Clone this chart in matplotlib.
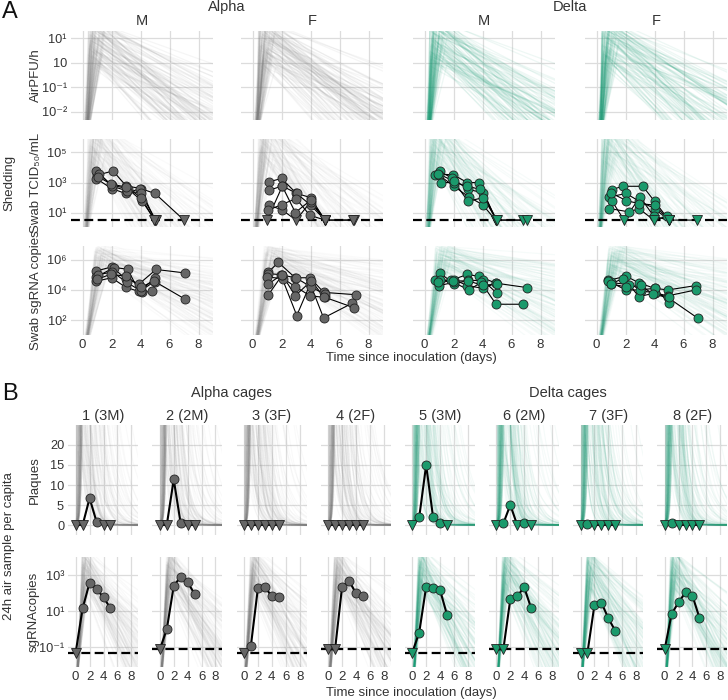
import numpy as np
import matplotlib
matplotlib.use("Agg")
import matplotlib.pyplot as plt
from matplotlib.collections import LineCollection
from matplotlib.ticker import NullLocator

plt.rcParams['font.family'] = ['Liberation Sans', 'DejaVu Sans']
plt.rcParams['mathtext.default'] = 'regular'

W, H = 728, 700

# ---------------- data ----------------
A_COLUMNS = ["M", "F", "M", "F"]
VARIANTS = ["Alpha", "Delta"]
X_TICKS = [0, 2, 4, 6, 8]

# Swab TCID50 (log10); None = below detection limit
SWAB_LOD_LOG = 0.5
ALPHA_M_TCID_DAYS = [[1.0, 2.1, 3.0, 4.0, 5.0, 7.0], [0.95, 2.0, 3.1, 4.1, 5.0],
                     [0.95, 2.0, 2.97, 3.98, 5.0], [1.15, 2.05, 3.05, 4.0, 5.05],
                     [1.05, 1.95, 3.0, 4.05, 4.95]]
ALPHA_M_TCID_LOG = [[3.49, 3.77, 2.78, 2.6, 2.27, None], [3.77, 2.82, 2.6, 1.77, None],
                    [3.26, 2.6, 2.27, 2.6, None], [3.6, 2.75, 2.45, 2.3, None],
                    [3.4, 2.9, 2.7, 2.0, None]]
ALPHA_F_TCID_DAYS = [[1.1, 2.0, 3.0, 4.0, 5.0], [1.15, 2.05, 3.05, 4.0, 5.0, 7.0],
                     [1.1, 2.0, 3.0, 4.0, 5.0], [1.05, 2.0, 3.0, 3.95, 5.0],
                     [1.0, 2.05, 2.95, 4.0, 5.0, 6.95]]
ALPHA_F_TCID_LOG = [[3.04, 3.27, 2.3, 1.5, None], [2.49, 2.77, 2.27, 2.0, None, None],
                    [1.49, 1.2, None, 1.71, None], [1.15, 1.53, 1.93, 0.82, None],
                    [None, 2.75, 1.0, 1.82, None, None]]
DELTA_M_TCID_DAYS = [[0.75, 1.95, 2.95, 3.75, 4.95], [1.05, 1.9, 3.0, 4.05, 4.95, 6.8],
                     [1.0, 2.0, 3.05, 4.0, 4.9], [1.1, 2.05, 2.9, 3.8, 4.95, 7.05],
                     [0.9, 2.0, 3.0, 4.05, 5.0]]
DELTA_M_TCID_LOG = [[3.53, 3.53, 3.0, 3.0, None], [3.77, 3.27, 2.55, 2.31, None, None],
                    [3.49, 2.77, 2.04, 1.53, None], [3.0, 3.0, 2.77, 2.55, None, None],
                    [3.6, 3.1, 1.75, 2.0, None]]
DELTA_F_TCID_DAYS = [[1.06, 1.8, 3.19, 4.0, 5.0], [0.88, 2.03, 2.92, 4.0, 4.98, 6.9],
                     [1.06, 1.9, 3.0, 3.95, 4.98], [0.88, 2.27, 2.92, 3.95, 4.86],
                     [1.0, 2.05, 2.9, 4.0, 5.0]]
DELTA_F_TCID_LOG = [[2.53, 2.75, 2.75, 1.75, None], [2.04, 2.27, 1.77, 1.27, None, None],
                    [1.77, None, 2.04, 0.75, None], [1.27, 1.04, 1.27, None, 0.75],
                    [2.3, 1.8, 1.6, 1.5, None]]

# Swab sgRNA copies (log10)
ALPHA_M_SG_DAYS = [[0.95, 2.0, 3.0, 3.9, 5.07, 7.07], [0.95, 2.17, 3.11, 3.9, 4.98, 7.07],
                   [0.95, 2.0, 2.97, 4.09, 4.79], [1.05, 2.05, 3.05, 4.0, 5.0],
                   [1.0, 1.95, 3.0, 4.05, 4.95]]
ALPHA_M_SG_LOG = [[5.26, 5.53, 4.74, 4.4, 5.36, 5.13], [4.86, 5.49, 5.38, 3.9, 4.56, 3.39],
                  [4.58, 4.81, 4.18, 3.84, 3.9], [5.0, 5.2, 4.5, 3.95, 4.8],
                  [4.7, 5.05, 4.9, 4.2, 4.6]]
ALPHA_F_SG_DAYS = [[1.09, 1.78, 2.94, 3.98, 4.9, 7.17], [1.09, 1.94, 3.05, 3.98, 4.9, 6.88],
                   [1.0, 2.13, 2.94, 3.98, 5.02, 7.0], [1.09, 2.0, 3.0, 4.0, 5.0],
                   [1.09, 2.05, 2.94, 4.05, 4.95]]
ALPHA_F_SG_LOG = [[5.19, 5.83, 4.81, 4.81, 3.84, 3.68], [5.08, 5.02, 2.3, 4.4, 2.14, 3.12],
                  [4.86, 4.75, 4.22, 3.61, 3.5, 2.82], [4.4, 5.0, 4.8, 4.22, 3.7],
                  [3.68, 5.0, 3.61, 4.6, 3.5]]
DELTA_M_SG_DAYS = [[0.75, 1.8, 2.94, 3.76, 4.93, 7.05], [1.05, 2.05, 3.0, 4.04, 5.0],
                   [1.05, 2.05, 2.94, 4.0, 4.93], [1.0, 2.0, 3.06, 3.9, 4.93, 6.77],
                   [0.9, 1.95, 3.0, 4.04, 5.0]]
DELTA_M_SG_LOG = [[4.63, 4.63, 5.03, 4.9, 4.45, 4.16], [5.12, 4.41, 4.63, 4.63, 3.77],
                  [4.63, 4.68, 4.29, 4.11, 4.45], [4.29, 4.5, 4.0, 4.5, 3.05, 3.05],
                  [4.5, 4.6, 4.6, 4.3, 4.4]]
DELTA_F_SG_DAYS = [[0.82, 2.03, 2.92, 4.0, 4.92, 6.84], [0.98, 1.79, 3.08, 4.0, 4.92, 6.84],
                   [0.98, 2.27, 2.92, 4.0, 4.92, 7.0], [0.82, 2.0, 3.0, 4.0, 5.0],
                   [1.0, 2.03, 3.08, 3.9, 5.0]]
DELTA_F_SG_LOG = [[4.63, 4.92, 4.47, 4.11, 4.0, 4.29], [4.41, 4.74, 3.95, 3.8, 3.61, 4.0],
                  [4.5, 4.34, 3.55, 3.8, 3.5, 2.11], [4.6, 4.0, 4.0, 4.11, 3.16],
                  [4.4, 4.2, 4.3, 3.7, 3.5]]

# Panel B: cages
CAGE_LABELS = ["1 (3M)", "2 (2M)", "3 (3F)", "4 (2F)", "5 (3M)", "6 (2M)", "7 (3F)", "8 (2F)"]
CAGE_SIZE = [3, 2, 3, 2, 3, 2, 3, 2]
AIR_DAYS = [0, 1, 2, 3, 4, 5]
PLAQUES = [[None, None, 6.7, 0.8, None, None],
           [None, None, 11.4, 0.4, None, None],
           [None, None, None, None, None, None],
           [None, None, None, None, None, None],
           [None, 1.9, 15.0, 1.9, 0.6, None],
           [None, 0.4, 5.0, None, 0.4, None],
           [None, 0.3, None, None, None, None],
           [None, 0.5, None, None, None, None]]
AIR_SG_LOG = [[None, 1.16, 2.58, 2.21, 1.77, 1.16],
              [None, 0.0, 2.39, 2.91, 2.6, 1.95],
              [None, -0.9, 2.26, 2.32, 1.84, 1.77],
              [None, None, 2.32, 2.69, 1.99, 1.84],
              [None, -0.19, 2.35, 2.26, 2.17, 0.79],
              [None, None, 1.66, 1.84, 2.32, 1.16],
              [None, None, 1.34, 1.47, 0.61, -0.09],
              [None, 0.85, 1.49, 2.04, 1.84, 0.64]]
AIR_LOD_TOTAL = 0.155

# Posterior trajectory parameters (peak time, relative peak level, relative decay)
ALPHA_TP = [0.45, 0.62, 0.80, 0.95, 1.10, 0.55, 0.72, 1.30, 0.85, 0.40, 1.05, 0.68,
            0.90, 1.45, 0.58, 0.77, 1.20, 0.50, 0.98, 0.66, 1.60, 0.83, 0.47, 1.15,
            0.74, 0.92, 0.60, 1.35, 0.88, 0.52, 1.02, 0.70, 0.95, 1.25, 0.64, 0.80,
            0.43, 1.08, 0.76, 1.50, 0.57, 0.86, 1.18, 0.69, 0.99, 0.53, 1.40, 0.79]
ALPHA_LEVEL = [0.82, 0.35, 0.64, 0.91, 0.18, 0.55, 0.73, 0.42, 0.97, 0.28, 0.60, 0.86,
               0.12, 0.49, 0.77, 0.33, 0.69, 0.94, 0.22, 0.58, 0.81, 0.39, 0.66, 0.05,
               0.88, 0.45, 0.71, 0.26, 0.92, 0.52, 0.15, 0.79, 0.37, 0.63, 0.99, 0.31,
               0.84, 0.47, 0.09, 0.75, 0.56, 0.24, 0.68, 0.90, 0.41, 0.62, 0.19, 0.85]
ALPHA_DECAY = [0.30, 0.72, 0.15, 0.55, 0.88, 0.42, 0.05, 0.67, 0.25, 0.93, 0.38, 0.60,
               0.12, 0.80, 0.47, 0.20, 0.75, 0.33, 0.58, 0.02, 0.69, 0.44, 0.85, 0.27,
               0.52, 0.10, 0.63, 0.36, 0.97, 0.18, 0.49, 0.78, 0.23, 0.66, 0.40, 0.90,
               0.08, 0.56, 0.31, 0.71, 0.14, 0.83, 0.46, 0.26, 0.61, 0.37, 0.95, 0.53]
DELTA_TP = [0.50, 0.70, 0.38, 0.92, 0.60, 1.15, 0.82, 0.44, 1.00, 0.66, 1.40, 0.56,
            0.78, 0.35, 1.25, 0.88, 0.62, 0.48, 1.08, 0.74, 0.42, 0.95, 1.55, 0.58,
            0.86, 0.68, 0.40, 1.12, 0.80, 0.54, 1.30, 0.64, 0.90, 0.46, 1.02, 0.72,
            0.37, 1.20, 0.84, 0.59, 0.98, 0.51, 1.45, 0.76, 0.65, 0.43, 1.05, 0.81]
DELTA_LEVEL = [0.74, 0.41, 0.93, 0.20, 0.66, 0.85, 0.32, 0.58, 0.97, 0.13, 0.70, 0.47,
               0.88, 0.27, 0.62, 0.79, 0.36, 0.95, 0.52, 0.08, 0.83, 0.44, 0.68, 0.23,
               0.91, 0.55, 0.30, 0.76, 0.61, 0.17, 0.87, 0.49, 0.72, 0.38, 0.99, 0.64,
               0.11, 0.80, 0.45, 0.57, 0.26, 0.89, 0.34, 0.70, 0.51, 0.94, 0.29, 0.78]
DELTA_DECAY = [0.45, 0.12, 0.78, 0.33, 0.60, 0.05, 0.90, 0.27, 0.52, 0.70, 0.18, 0.85,
               0.40, 0.63, 0.09, 0.74, 0.36, 0.57, 0.95, 0.22, 0.48, 0.81, 0.14, 0.66,
               0.31, 0.88, 0.43, 0.03, 0.69, 0.55, 0.25, 0.92, 0.38, 0.16, 0.76, 0.50,
               0.62, 0.29, 0.84, 0.07, 0.58, 0.35, 0.72, 0.20, 0.97, 0.41, 0.65, 0.11]

# ---------------- style ----------------
ALPHA_FACE = "#666666"
DELTA_FACE = "#1b9a6c"
ALPHA_LINE = "#808080"
DELTA_LINE = "#1b9e77"
GRID = "#dcdcdc"
TXT = "#333333"
FS_TICK = 9.2
FS_LAB = 9.5
FS_TITLE = 10.5

fig = plt.figure(figsize=(W / 100, H / 100), dpi=100)


def px_axes(left, top, width, height):
    return fig.add_axes([left / W, 1 - (top + height) / H, width / W, height / H])


def ftext(x, y, s, **kw):
    kw.setdefault("color", TXT)
    return fig.text(x / W, 1 - y / H, s, **kw)


def style_ax(ax, xlim, ylim, log, yticks, ylabels, show_y, show_x):
    if log:
        ax.set_yscale("log")
    ax.set_xlim(*xlim)
    ax.set_ylim(*ylim)
    ax.set_xticks(X_TICKS)
    ax.set_yticks(yticks)
    ax.yaxis.set_minor_locator(NullLocator())
    ax.xaxis.set_minor_locator(NullLocator())
    if show_y:
        ax.set_yticklabels(ylabels)
    else:
        ax.set_yticklabels([])
    if show_x:
        ax.set_xticklabels([str(t) for t in X_TICKS])
    else:
        ax.set_xticklabels([])
    ax.grid(True, color=GRID, lw=0.9)
    ax.set_axisbelow(True)
    ax.tick_params(length=0, labelsize=FS_TICK, colors=TXT, pad=3)
    ax.tick_params(axis="x", labelsize=9.5)
    for s in ax.spines.values():
        s.set_visible(False)
    ax.set_facecolor("white")


def traj_params(kind, tp, lv, dc, u):
    # returns (onset time, log-value at onset, peak time, peak log-value, decay per day)
    if kind == "air":
        return 0.35 * u, -3.3, tp, -0.3 + 2.2 * lv, 0.2 + 0.5 * dc
    if kind == "tcid":
        return 0.3 * u, -1.0, tp, 4.0 + 3.5 * lv, 0.5 + 1.5 * dc
    if kind == "sg":
        return 0.3 * u, 0.0, tp + 0.4, 5.0 + 2.0 * lv, 0.05 + 0.7 * dc
    if kind == "plaq":
        return 0.0, -1.0, 0.1 + 1.2 * u, 1.2 + 1.6 * lv, 0.15 + 0.7 * dc
    if kind == "airsg":
        return 0.3 * u, -2.8, tp + 0.5, 2.0 + 2.5 * lv, 0.25 + 0.8 * dc


def draw_traj(ax, variant, kind, offset, alpha, linear=False, lw=0.9):
    if variant == "Alpha":
        TP, LV, DC, col = ALPHA_TP, ALPHA_LEVEL, ALPHA_DECAY, ALPHA_LINE
    else:
        TP, LV, DC, col = DELTA_TP, DELTA_LEVEL, DELTA_DECAY, DELTA_LINE
    n = len(TP)
    segs = []
    t_end = 9.6
    for k, off in enumerate((offset, offset + 19)):
        for i in range(n):
            tp = TP[(i + 11 * k) % n]
            lv = LV[(i + off) % n]
            dc = DC[(i + 2 * off + 5) % n]
            u = LV[(i + off + 23) % n]
            t0, v0, tpk, peak, slope = traj_params(kind, tp, lv, dc, u)
            tv = [t0, tpk, t_end]
            vv = [v0, peak, peak - slope * (t_end - tpk)]
            if linear:
                tt = np.linspace(t0, t_end, 220)
                yy = 10 ** np.interp(tt, tv, vv)
                segs.append(np.column_stack([tt, yy]))
            else:
                segs.append(np.column_stack([tv, 10 ** np.array(vv)]))
    lc = LineCollection(segs, colors=col, alpha=alpha, linewidths=lw, zorder=1)
    ax.add_collection(lc, autolim=False)


def draw_series(ax, days_list, vals_list, lod, face, log=True, lw=0.8, ms=6.5):
    for days, vals in zip(days_list, vals_list):
        ys = [lod if v is None else (10 ** v if log else v) for v in vals]
        ax.plot(days, ys, color="black", lw=lw, zorder=4)
        for d, v, y in zip(days, vals, ys):
            ax.plot(d, y, marker=("v" if v is None else "o"), ms=ms, mfc=face,
                    mec="#222222", mew=0.6, zorder=5, ls="none")


# ---------------- Panel A ----------------
A_LEFTS = [71, 241, 413, 585]
A_W = 142
A_TOPS = [31, 138.5, 246]
A_H = 88.5
A_XLIM = (-0.8, 9)

rows = [
    dict(kind="air", ylim=(10 ** -2.31, 10 ** 1.3), yt=[10, 1, 0.1, 0.01],
         yl=["10¹", "10", "10⁻¹", "10⁻²"], alpha=0.075),
    dict(kind="tcid", ylim=(10 ** 0.04, 10 ** 5.93), yt=[1e5, 1e3, 1e1],
         yl=["10⁵", "10³", "10¹"], alpha=0.035),
    dict(kind="sg", ylim=(10 ** 1.04, 10 ** 6.92), yt=[1e6, 1e4, 1e2],
         yl=["10⁶", "10⁴", "10²"], alpha=0.035),
]
tcid_data = [(ALPHA_M_TCID_DAYS, ALPHA_M_TCID_LOG), (ALPHA_F_TCID_DAYS, ALPHA_F_TCID_LOG),
             (DELTA_M_TCID_DAYS, DELTA_M_TCID_LOG), (DELTA_F_TCID_DAYS, DELTA_F_TCID_LOG)]
sg_data = [(ALPHA_M_SG_DAYS, ALPHA_M_SG_LOG), (ALPHA_F_SG_DAYS, ALPHA_F_SG_LOG),
           (DELTA_M_SG_DAYS, DELTA_M_SG_LOG), (DELTA_F_SG_DAYS, DELTA_F_SG_LOG)]

for r, row in enumerate(rows):
    for c in range(4):
        variant = VARIANTS[c // 2]
        face = ALPHA_FACE if variant == "Alpha" else DELTA_FACE
        ax = px_axes(A_LEFTS[c], A_TOPS[r], A_W, A_H)
        draw_traj(ax, variant, row["kind"], offset=c * 3 + r * 7, alpha=row["alpha"])
        if r == 1:
            lod = 10 ** SWAB_LOD_LOG
            ax.axhline(lod, color="black", ls=(0, (4, 2)), lw=1.6, zorder=3)
            draw_series(ax, tcid_data[c][0], tcid_data[c][1], lod, face)
        if r == 2:
            draw_series(ax, sg_data[c][0], sg_data[c][1], None, face)
        style_ax(ax, A_XLIM, row["ylim"], True, row["yt"], row["yl"], c == 0, r == 2)

ftext(2, 12, "A", fontsize=17, va="center", ha="left", color="#111111")
ftext(227, 7, "Alpha", fontsize=FS_TITLE, ha="center", va="center")
ftext(570, 7, "Delta", fontsize=FS_TITLE, ha="center", va="center")
for c in range(4):
    ftext(A_LEFTS[c] + A_W / 2, 21, A_COLUMNS[c], fontsize=FS_TITLE, ha="center", va="center")
ftext(36, A_TOPS[0] + A_H / 2, "AirPFU/h", fontsize=FS_LAB, rotation=90, ha="center", va="center")
ftext(36, A_TOPS[1] + A_H / 2, "Swab TCID₅₀/mL", fontsize=FS_LAB, rotation=90, ha="center", va="center")
ftext(36, A_TOPS[2] + A_H / 2, "Swab sgRNA copies", fontsize=FS_LAB, rotation=90, ha="center", va="center")
ftext(9, 183, "Shedding", fontsize=FS_LAB, rotation=90, ha="center", va="center")
ftext(411, 358, "Time since inoculation (days)", fontsize=FS_LAB, ha="center", va="center")

# ---------------- Panel B ----------------
B_LEFTS = [68.3 + 84.14 * i for i in range(8)]
B_W = 70
B_TOPS = [425, 557.3]
B_HS = [110, 109.4]
B_XLIM = (-1.06, 9)

for c in range(8):
    variant = VARIANTS[c // 4]
    face = ALPHA_FACE if variant == "Alpha" else DELTA_FACE
    # plaques
    ax = px_axes(B_LEFTS[c], B_TOPS[0], B_W, B_HS[0])
    draw_traj(ax, variant, "plaq", offset=c * 5 + 2, alpha=0.045, linear=True, lw=0.8)
    draw_series(ax, [AIR_DAYS], [PLAQUES[c]], 0.0, face, log=False, lw=1.5, ms=6.5)
    style_ax(ax, B_XLIM, (-2.5, 25), False, [0, 5, 10, 15, 20],
             ["0", "5", "10", "15", "20"], c == 0, False)
    # air sgRNA
    ax = px_axes(B_LEFTS[c], B_TOPS[1], B_W, B_HS[1])
    draw_traj(ax, variant, "airsg", offset=c * 5 + 11, alpha=0.045)
    lod = AIR_LOD_TOTAL / CAGE_SIZE[c]
    ax.axhline(lod, color="black", ls=(0, (4, 2)), lw=1.6, zorder=3)
    draw_series(ax, [AIR_DAYS], [AIR_SG_LOG[c]], lod, face, log=True, lw=1.5, ms=6.5)
    style_ax(ax, B_XLIM, (10 ** -2.07, 10 ** 3.98), True, [1e3, 1e1, 1e-1],
             ["10³", "10¹", "10⁻¹"], c == 0, True)
    ftext(B_LEFTS[c] + B_W / 2, 416, CAGE_LABELS[c], fontsize=FS_TITLE, ha="center", va="center")

ftext(2, 394, "B", fontsize=17, va="center", ha="left", color="#111111")
ftext(231, 393, "Alpha cages", fontsize=FS_TITLE, ha="center", va="center")
ftext(568, 393, "Delta cages", fontsize=FS_TITLE, ha="center", va="center")
ftext(35, B_TOPS[0] + B_HS[0] / 2, "Plaques", fontsize=FS_LAB, rotation=90, ha="center", va="center")
ftext(34, B_TOPS[1] + B_HS[1] / 2, "sgRNAcopies", fontsize=FS_LAB, rotation=90, ha="center", va="center")
ftext(9, 546, "24h air sample per capita", fontsize=FS_LAB, rotation=90, ha="center", va="center")
ftext(411, 693, "Time since inoculation (days)", fontsize=FS_LAB, ha="center", va="center")

fig.savefig("out.png", dpi=100, facecolor="white")
